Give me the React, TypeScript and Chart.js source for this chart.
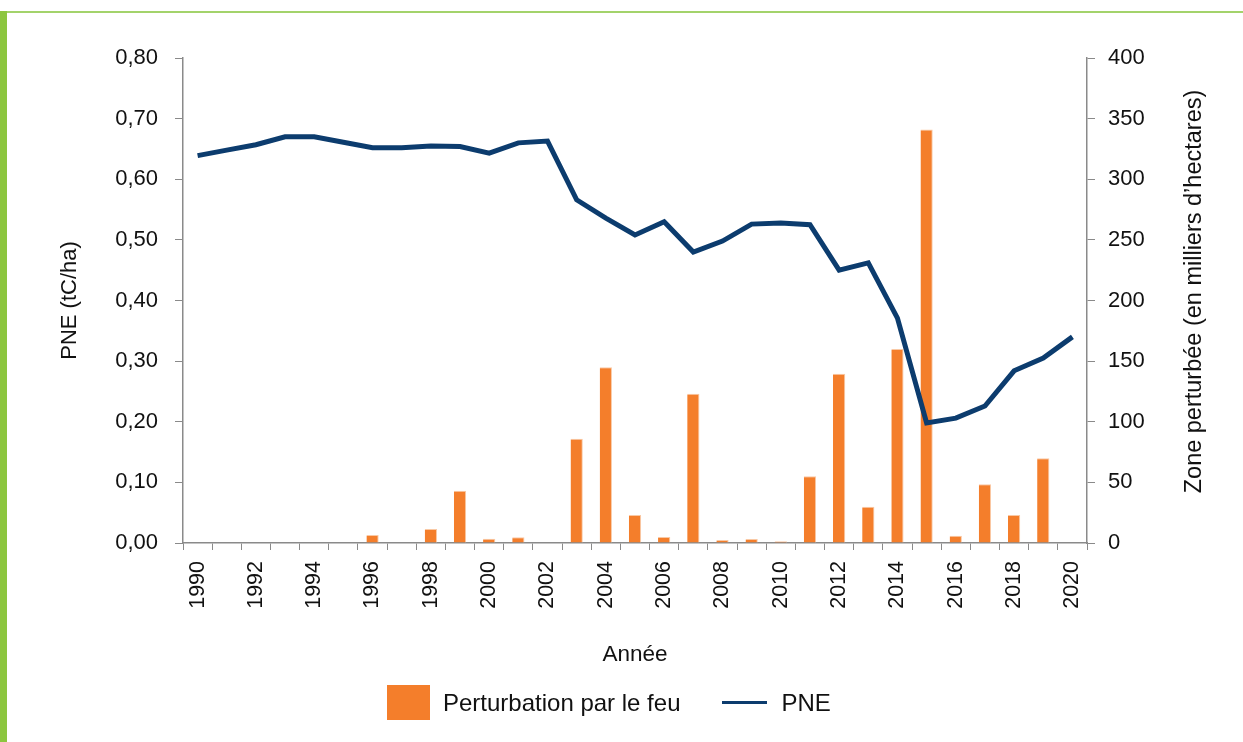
import React, { useEffect, useRef } from "react";
import { Chart, registerables } from "chart.js";

Chart.register(...registerables);

const years = [
  "1990", "1991", "1992", "1993", "1994", "1995", "1996", "1997", "1998", "1999",
  "2000", "2001", "2002", "2003", "2004", "2005", "2006", "2007", "2008", "2009",
  "2010", "2011", "2012", "2013", "2014", "2015", "2016", "2017", "2018", "2019", "2020",
];

// Zone perturbée par le feu (milliers d'hectares)
const fireArea = [
  0, 0, 0, 0, 0.5, 0, 6.6, 0.5, 11.5, 43,
  3.6, 4.7, 0.5, 86, 145, 23, 5, 123, 2.5, 3.3,
  1.4, 55, 139.5, 30, 160, 341, 6, 48.4, 23, 70, 0.5,
];

// PNE (tC/ha)
const pne = [
  0.639, 0.648, 0.657, 0.670, 0.670, 0.661, 0.652, 0.652, 0.655, 0.654,
  0.643, 0.660, 0.663, 0.566, 0.536, 0.508, 0.530, 0.480, 0.498, 0.526,
  0.528, 0.525, 0.450, 0.462, 0.371, 0.198, 0.206, 0.226, 0.284, 0.305, 0.340,
];

const leftTitle = "PNE (tC/ha)";
const rightTitle = "Zone perturbée (en milliers d’hectares)";
const xTitle = "Année";
const fireLabel = "Perturbation par le feu";
const pneLabel = "PNE";

const FONT = "'Liberation Sans', Arial, Helvetica, sans-serif";
const ORANGE = "#F47E2B";
const NAVY = "#0C3C6E";
const AXIS = "#8A8A8A";
const TEXT = "#111111";

const titlesPlugin = {
  id: "customTitles",
  afterDraw(chart: any) {
    const ctx = chart.ctx;
    const area = chart.chartArea;
    ctx.save();
    ctx.fillStyle = TEXT;
    ctx.textAlign = "center";
    ctx.textBaseline = "middle";
    const cy = (area.top + area.bottom) / 2;
    // left title
    ctx.font = `22px ${FONT}`;
    ctx.save();
    ctx.translate(70, cy);
    ctx.rotate(-Math.PI / 2);
    ctx.fillText(leftTitle, 0, 0);
    ctx.restore();
    // right title (reads bottom to top)
    ctx.font = `23.5px ${FONT}`;
    ctx.save();
    ctx.translate(1195, cy - 9);
    ctx.rotate(-Math.PI / 2);
    ctx.fillText(rightTitle, 0, 0);
    ctx.restore();
    // x title
    ctx.font = `22.5px ${FONT}`;
    ctx.fillText(xTitle, (area.left + area.right) / 2, 655);
    ctx.restore();
  },
};

export default function App() {
  const canvasRef = useRef<HTMLCanvasElement | null>(null);

  useEffect(() => {
    const canvas = canvasRef.current;
    if (!canvas) return;
    const chart = new Chart(canvas, {
      type: "bar",
      data: {
        labels: years,
        datasets: [
          {
            type: "line",
            label: pneLabel,
            data: pne,
            yAxisID: "y",
            borderColor: NAVY,
            backgroundColor: NAVY,
            borderWidth: 5,
            pointRadius: 0,
            tension: 0,
            order: 0,
          } as any,
          {
            type: "bar",
            label: fireLabel,
            data: fireArea,
            yAxisID: "y1",
            backgroundColor: ORANGE,
            borderColor: "#F9C9A5",
            borderWidth: { top: 1, right: 1, left: 0, bottom: 0 },
            categoryPercentage: 1,
            barPercentage: 0.42,
            order: 1,
          } as any,
        ],
      },
      options: {
        responsive: false,
        animation: false,
        layout: { padding: { top: 58, left: 0, right: 0, bottom: 0 } },
        plugins: {
          legend: { display: false },
          tooltip: { enabled: false },
          title: { display: false },
        },
        scales: {
          x: {
            type: "category",
            offset: true,
            afterFit: (s: any) => {
              s.height = 199;
            },
            grid: {
              offset: true,
              drawOnChartArea: false,
              drawTicks: true,
              tickLength: 7,
              tickColor: AXIS,
              color: AXIS,
            },
            border: { display: true, color: AXIS, width: 1.5 },
            ticks: {
              autoSkip: false,
              maxRotation: 90,
              minRotation: 90,
              padding: 11,
              color: TEXT,
              font: { family: FONT, size: 21.5 },
              callback: (_v: any, i: number) => (i % 2 === 0 ? years[i] : ""),
            },
          },
          y: {
            type: "linear",
            position: "left",
            min: 0,
            max: 0.8,
            afterFit: (s: any) => {
              s.width = 183;
            },
            grid: {
              drawOnChartArea: false,
              drawTicks: true,
              tickLength: 8,
              tickColor: AXIS,
            },
            border: { display: true, color: AXIS, width: 1.5 },
            ticks: {
              stepSize: 0.1,
              padding: 17,
              color: TEXT,
              font: { family: FONT, size: 22 },
              callback: (v: any) => Number(v).toFixed(2).replace(".", ","),
            },
          },
          y1: {
            type: "linear",
            position: "right",
            min: 0,
            max: 400,
            afterFit: (s: any) => {
              s.width = 156;
            },
            grid: {
              drawOnChartArea: false,
              drawTicks: true,
              tickLength: 8,
              tickColor: AXIS,
            },
            border: { display: true, color: AXIS, width: 1.5 },
            ticks: {
              stepSize: 50,
              padding: 13,
              color: TEXT,
              font: { family: FONT, size: 22 },
            },
          },
        },
      },
      plugins: [titlesPlugin],
    } as any);
    return () => chart.destroy();
  }, []);

  return (
    <div
      style={{
        position: "fixed",
        left: 0,
        top: 0,
        width: 1243,
        height: 742,
        background: "#ffffff",
        overflow: "hidden",
        fontFamily: FONT,
      }}
    >
      <div style={{ position: "absolute", left: 0, top: 11, width: 7, height: 731, background: "#8CC63F" }} />
      <div style={{ position: "absolute", left: 7, top: 11, right: 0, height: 2, background: "#A3D36B" }} />
      <canvas
        ref={canvasRef}
        width={1243}
        height={742}
        style={{ position: "absolute", left: 0, top: 0, width: 1243, height: 742 }}
      />
      <div
        style={{
          position: "absolute",
          left: 387,
          top: 685,
          display: "flex",
          alignItems: "center",
          height: 35,
          fontSize: 24,
          color: TEXT,
          whiteSpace: "nowrap",
        }}
      >
        <span style={{ display: "inline-block", width: 43, height: 35, background: ORANGE }} />
        <span style={{ marginLeft: 13 }}>{fireLabel}</span>
        <span style={{ display: "inline-block", width: 45, height: 3, background: NAVY, marginLeft: 42 }} />
        <span style={{ marginLeft: 14 }}>{pneLabel}</span>
      </div>
    </div>
  );
}
